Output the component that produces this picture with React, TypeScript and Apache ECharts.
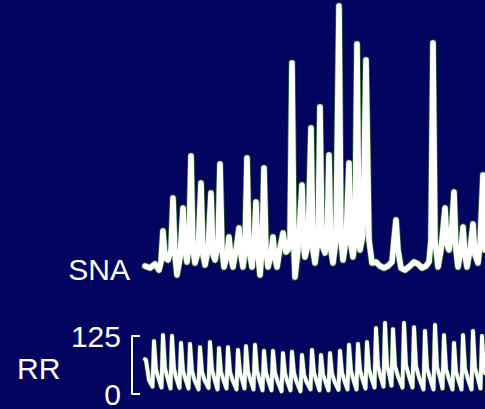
import React, { useEffect, useRef } from "react";
import * as echarts from "echarts";

// SNA trace: time (s) and amplitude (a.u.)
const snaTime = [
  0, 0.5, 1.0, 1.4, 1.6, 1.8, 2.0, 2.3, 2.6, 2.8, 3.0, 3.2, 3.5, 3.8, 4.0, 4.2, 4.4, 4.6, 4.8, 5.0,
  5.3, 5.6, 5.8, 6.0, 6.3, 6.6, 6.8, 7.0, 7.3, 7.5, 7.7, 7.9, 8.2, 8.4, 8.6, 8.8, 9.1, 9.4, 9.6, 9.8,
  10.0, 10.2, 10.4, 10.7, 10.9, 11.1, 11.3, 11.5, 11.7, 11.9, 12.1, 12.3, 12.6, 12.8, 13.0, 13.2, 13.5, 13.8, 14.1, 14.3,
  14.5, 14.7, 14.9, 15.0, 15.3, 15.7, 15.9, 16.0, 16.3, 16.6, 16.8, 17.0, 17.3, 17.5, 17.7, 18.0, 18.2, 18.4, 18.6, 18.8,
  19.1, 19.4, 19.6, 19.8, 20.1, 20.4, 20.6, 20.8, 21.0, 21.2, 21.4, 21.5, 21.8, 22.1, 22.4, 22.7, 23.1, 23.5, 23.9, 24.3,
  24.7, 24.9, 25.1, 25.3, 25.6, 26.0, 26.5, 26.9, 27.3, 27.7, 28.1, 28.4, 28.6, 28.8, 29.0, 29.3, 29.6, 30.0, 30.2, 30.4,
  30.6, 30.9, 31.1, 31.3, 31.6, 31.8, 32.0, 32.2, 32.5, 32.8, 33.0, 33.3, 33.5, 33.8, 34.0,
];
const snaValue = [
  9, 7, 11, 5, 13, 44, 17, 15, 25, 77, 20, 0, 17, 67, 25, 13, 30, 119, 25, 12,
  23, 92, 20, 10, 25, 82, 20, 15, 30, 111, 25, 8, 20, 38, 17, 8, 25, 47, 20, 8,
  25, 117, 25, 8, 30, 73, 20, 0, 25, 107, 25, 8, 20, 38, 17, 8, 27, 42, 23, 25,
  35, 212, 25, -2, 25, 90, 25, 18, 30, 147, 25, 12, 35, 168, 30, 22, 35, 120, 25, 12,
  35, 269, 35, 15, 35, 112, 30, 18, 35, 231, 35, 25, 40, 215, 35, 12, 13, 9, 7, 9,
  13, 35, 55, 25, 7, 5, 9, 13, 11, 7, 9, 13, 35, 232, 35, 8, 25, 67, 30, 25,
  35, 83, 25, 8, 25, 48, 20, 8, 25, 51, 20, 12, 30, 100, 25,
];

// RR (blood pressure) trace: time (s) and pressure (mmHg)
const rrTime = [
  0.0, 0.1, 0.4, 0.75, 0.9, 1.1, 1.35, 1.65, 1.8, 2.0, 2.25, 2.55, 2.7, 2.9, 3.15, 3.45, 3.6, 3.8, 4.05, 4.35,
  4.5, 4.7, 4.95, 5.35, 5.5, 5.7, 5.95, 6.35, 6.5, 6.7, 6.95, 7.25, 7.4, 7.6, 7.85, 8.15, 8.3, 8.5, 8.75, 9.15,
  9.3, 9.5, 9.75, 9.95, 10.1, 10.3, 10.55, 10.85, 11.0, 11.2, 11.45, 11.75, 11.9, 12.1, 12.35, 12.65, 12.8, 13.0, 13.25, 13.65,
  13.8, 14.0, 14.25, 14.55, 14.7, 14.9, 15.15, 15.55, 15.7, 15.9, 16.15, 16.55, 16.7, 16.9, 17.15, 17.45, 17.6, 17.8, 18.05, 18.35,
  18.5, 18.7, 18.95, 19.35, 19.5, 19.7, 19.95, 20.25, 20.4, 20.6, 20.85, 21.15, 21.3, 21.5, 21.75, 22.05, 22.2, 22.4, 22.65, 22.95,
  23.1, 23.3, 23.55, 23.85, 24.0, 24.2, 24.45, 24.65, 24.8, 25.0, 25.3, 25.75, 25.9, 26.1, 26.4, 26.75, 26.9, 27.1, 27.4, 27.85,
  28.0, 28.2, 28.5, 28.85, 29.0, 29.2, 29.5, 29.75, 29.9, 30.1, 30.4, 30.75, 30.9, 31.1, 31.35, 31.65, 31.8, 32.0, 32.3, 32.65,
  32.8, 33.0, 33.3, 33.55, 33.7, 33.9, 34.0,
];
const rrValue = [
  75, 73, 30, 16, 114, 52, 34, 14, 127, 55, 35, 12, 125, 54, 33, 13, 110, 50, 32, 12,
  108, 50, 30, 10, 101, 48, 30, 13, 112, 52, 32, 10, 99, 47, 30, 12, 101, 48, 30, 10,
  95, 46, 28, 12, 103, 48, 30, 10, 106, 50, 30, 8, 93, 45, 28, 8, 93, 45, 28, 6,
  88, 44, 26, 8, 91, 45, 27, 6, 84, 42, 26, 10, 95, 46, 28, 8, 84, 42, 26, 8,
  88, 44, 27, 9, 93, 46, 28, 10, 106, 50, 30, 10, 108, 52, 32, 12, 112, 54, 34, 14,
  142, 60, 38, 16, 153, 62, 40, 18, 140, 60, 38, 14, 153, 62, 38, 14, 144, 60, 36, 10,
  136, 56, 34, 10, 149, 58, 36, 12, 127, 54, 32, 10, 110, 48, 30, 10, 127, 54, 32, 10,
  136, 56, 34, 12, 125, 54, 45,
];

const rrTicks = [0, 125];
const labels = { sna: "SNA", rr: "RR" };

const BG = "#02045f";
const TRACE = "#ffffff";
const EDGE = "#2c6a2c";
const FONT = "Liberation Sans, Arial, sans-serif";

export default function App() {
  const ref = useRef<HTMLDivElement>(null);
  useEffect(() => {
    document.body.style.margin = "0";
    document.body.style.background = BG;
    const chart = echarts.init(ref.current!, null, { renderer: "svg" });
    const sna = snaTime.map((t, i) => [t, snaValue[i]]);
    const rr = rrTime.map((t, i) => [t, rrValue[i]]);
    const traceSeries = (data: number[][], axis: number, w: number, color: string, z: number) => ({
      type: "line",
      xAxisIndex: axis,
      yAxisIndex: axis,
      data,
      symbol: "none",
      clip: false,
      silent: true,
      z,
      lineStyle: { color, width: w, join: "round", cap: "round" },
    });
    chart.setOption({
      animation: false,
      backgroundColor: BG,
      grid: [
        { left: 145, width: 340, top: 5, height: 270 },
        { left: 145, width: 340, top: 336, height: 58 },
      ],
      xAxis: [
        { type: "value", gridIndex: 0, min: 0, max: 34, show: false },
        { type: "value", gridIndex: 1, min: 0, max: 34, show: false },
      ],
      yAxis: [
        { type: "value", gridIndex: 0, min: 0, max: 270, show: false },
        {
          type: "value",
          gridIndex: 1,
          min: rrTicks[0],
          max: rrTicks[1],
          interval: rrTicks[1] - rrTicks[0],
          position: "left",
          offset: 13,
          splitLine: { show: false },
          axisLine: { show: true, onZero: false, lineStyle: { color: "#ffffff", width: 2 } },
          axisTick: { show: true, inside: true, length: 8, lineStyle: { color: "#ffffff", width: 2 } },
          axisLabel: { color: "#ffffff", fontSize: 30, fontFamily: FONT, margin: 11 },
        },
      ],
      graphic: [
        {
          type: "text",
          x: 130,
          y: 269,
          style: {
            text: labels.sna,
            fill: "#ffffff",
            font: `30px ${FONT}`,
            align: "right",
            verticalAlign: "middle",
            textAlign: "right",
            textVerticalAlign: "middle",
          },
        },
        {
          type: "text",
          x: 17,
          y: 368,
          style: {
            text: labels.rr,
            fill: "#ffffff",
            font: `30px ${FONT}`,
            align: "left",
            verticalAlign: "middle",
            textAlign: "left",
            textVerticalAlign: "middle",
          },
        },
      ],
      series: [
        traceSeries(sna, 0, 7, EDGE, 1),
        traceSeries(sna, 0, 5.5, TRACE, 2),
        traceSeries(rr, 1, 5, EDGE, 1),
        traceSeries(rr, 1, 3.8, TRACE, 2),
      ],
    });
    return () => chart.dispose();
  }, []);
  return (
    <div
      ref={ref}
      style={{ position: "fixed", left: 0, top: 0, width: 485, height: 409, background: BG }}
    />
  );
}
